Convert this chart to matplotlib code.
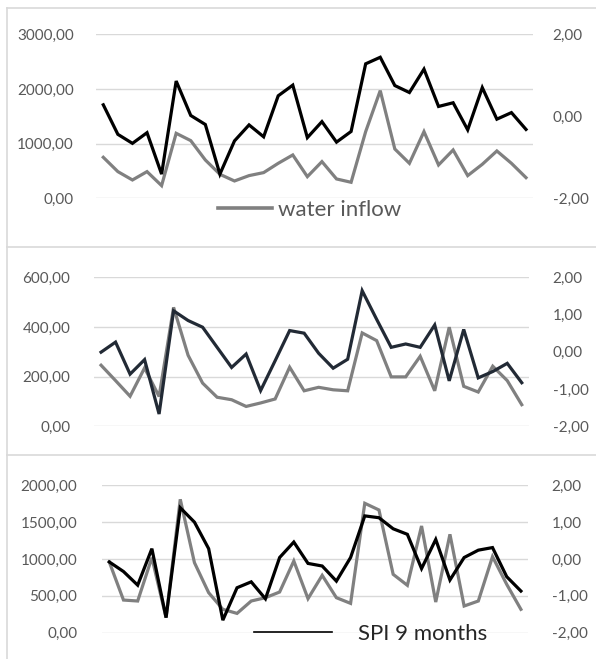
import matplotlib.pyplot as plt
from matplotlib.lines import Line2D
from matplotlib.ticker import FuncFormatter

# Данные (30 точек в каждой панели)
months = list(range(30))

inflow_1 = [750, 488, 335, 488, 232, 1189, 1055, 701, 439, 317,
            415, 470, 640, 793, 396, 671, 354, 293, 1220, 1970,
            902, 640, 1220, 610, 884, 415, 622, 866, 640, 378]
spi_1 = [0.28, -0.44, -0.66, -0.40, -1.41, 0.86, 0.02, -0.20, -1.41, -0.60,
         -0.21, -0.50, 0.50, 0.76, -0.52, -0.13, -0.63, -0.37, 1.28, 1.44,
         0.75, 0.58, 1.15, 0.24, 0.33, -0.33, 0.70, -0.07, 0.09, -0.32]

inflow_2 = [246, 184, 121, 235, 120, 479, 286, 174, 117, 107,
            80, 94, 110, 238, 143, 157, 147, 143, 376, 345,
            199, 199, 282, 143, 399, 161, 138, 242, 184, 87]
spi_2 = [-0.01, 0.26, -0.60, -0.21, -1.67, 1.10, 0.84, 0.66, 0.12, -0.42,
         -0.06, -1.04, -0.24, 0.57, 0.50, -0.04, -0.44, -0.20, 1.64, 0.87,
         0.12, 0.21, 0.12, 0.72, -0.78, 0.60, -0.70, -0.53, -0.31, -0.83]

inflow_3 = [959, 443, 430, 1018, 204, 1810, 950, 543, 317, 262,
            430, 475, 552, 973, 462, 778, 475, 398, 1756, 1665,
            792, 643, 1448, 416, 1335, 362, 430, 1032, 656, 317]
spi_3 = [-0.08, -0.34, -0.71, 0.28, -1.59, 1.39, 1.00, 0.28, -1.66, -0.78,
         -0.62, -1.08, 0.04, 0.46, -0.12, -0.19, -0.60, 0.04, 1.17, 1.12,
         0.82, 0.67, -0.26, 0.53, -0.57, 0.04, 0.24, 0.31, -0.48, -0.87]

left_ticks_1 = [0, 1000, 2000, 3000]
left_ticks_2 = [0, 200, 400, 600]
left_ticks_3 = [0, 500, 1000, 1500, 2000]
right_ticks_1 = [-2, 0, 2]
right_ticks_23 = [-2, -1, 0, 1, 2]

GRAY = '#808080'
GRID = '#d9d9d9'
TICK = '#595959'
W, H = 596, 659


def comma_fmt(v, pos):
    # Формат с запятой как десятичным разделителем
    return f'{v:.2f}'.replace('.', ',')


def make_panel(fig, rect, inflow, spi, left_ticks, right_ticks, spi_color, lpad, rpad):
    # Одна панель: расход воды слева, SPI справа
    x0, y0, x1, y1 = rect
    ax = fig.add_axes([x0 / W, 1 - y1 / H, (x1 - x0) / W, (y1 - y0) / H])
    ax.plot(months, inflow, color=GRAY, lw=2.3, solid_joinstyle='miter')
    ax.set_xlim(-0.5, 29.5)
    ax.set_ylim(left_ticks[0], left_ticks[-1])
    ax.set_yticks(left_ticks)
    ax.yaxis.set_major_formatter(FuncFormatter(comma_fmt))
    ax.set_xticks([])
    ax.grid(axis='y', color=GRID, lw=1.0)
    ax.set_axisbelow(True)
    ax.tick_params(axis='y', length=0, labelsize=11, labelcolor=TICK, pad=lpad)

    ax2 = ax.twinx()
    ax2.plot(months, spi, color=spi_color, lw=2.3, solid_joinstyle='miter')
    ax2.set_ylim(-2, 2)
    ax2.set_yticks(right_ticks)
    ax2.yaxis.set_major_formatter(FuncFormatter(comma_fmt))
    ax2.tick_params(axis='y', length=0, labelsize=11, labelcolor=TICK, pad=rpad)
    for a in (ax, ax2):
        for s in a.spines.values():
            s.set_visible(False)
    return ax, ax2


def draw_frames(fig):
    # Рамки вокруг трёх диаграмм
    fx = lambda px: px / W
    fy = lambda py: 1 - py / H
    fig.add_artist(Line2D([fx(7), fx(7)], [fy(8), fy(H)], color=GRID, lw=1.2))
    for py in (8, 247, 455):
        fig.add_artist(Line2D([fx(7), 1], [fy(py), fy(py)], color=GRID, lw=1.2))


def main():
    plt.rcParams['font.family'] = ['Lato', 'DejaVu Sans']
    fig = plt.figure(figsize=(W / 100, H / 100), dpi=100)
    draw_frames(fig)

    make_panel(fig, (96, 34.3, 533.3, 198.3), inflow_1, spi_1,
               left_ticks_1, right_ticks_1, 'black', 16, 14)
    make_panel(fig, (93.8, 277.3, 529, 426.3), inflow_2, spi_2,
               left_ticks_2, right_ticks_23, '#222a35', 17, 17)
    make_panel(fig, (102.2, 485.3, 528, 632.7), inflow_3, spi_3,
               left_ticks_3, right_ticks_23, 'black', 18, 17)

    h1 = Line2D([], [], color=GRAY, lw=2.6)
    fig.legend([h1], ['water inflow'], loc='center left',
               bbox_to_anchor=(218 / W, 1 - 209.5 / H), frameon=False,
               fontsize=16, labelcolor=TICK, handlelength=2.45,
               handletextpad=0.25, borderpad=0, borderaxespad=0)
    h3 = Line2D([], [], color='black', lw=1.2)
    fig.legend([h3], ['SPI 9 months'], loc='center left',
               bbox_to_anchor=(254 / W, 1 - 634 / H), frameon=False,
               fontsize=16, labelcolor='#262626', handlelength=3.5,
               handletextpad=1.2, borderpad=0, borderaxespad=0)

    fig.savefig('out.png', dpi=100)


if __name__ == '__main__':
    main()
